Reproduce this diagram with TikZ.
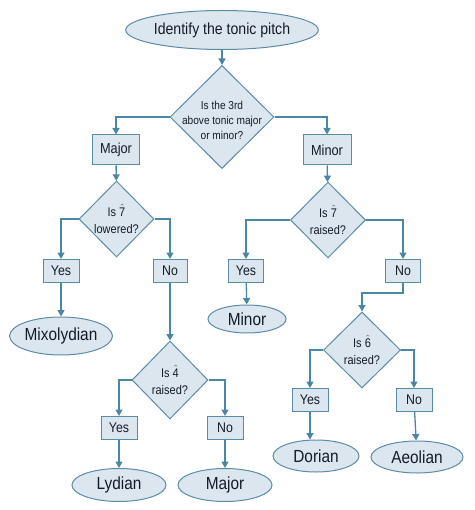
\documentclass[tikz,border=0pt]{standalone}
\usepackage{fontspec}
\setmainfont[FakeStretch=0.88]{Liberation Sans}
\usepackage{tikz}
\usetikzlibrary{shapes.geometric,arrows.meta}
\definecolor{boxfill}{HTML}{DCE6EE}
\definecolor{boxline}{HTML}{5B8CA6}
\definecolor{arrowline}{HTML}{4A87A6}
\definecolor{ink}{HTML}{161A28}
\tikzset{
  base/.style={draw=boxline,fill=boxfill,line width=1pt,text=ink,inner sep=0pt},
  mode/.style={base,ellipse,font=\fontsize{17.5}{20}\selectfont},
  question/.style={base,diamond,inner sep=0pt},
  qtext/.style={text=ink,align=center,font=\fontsize{12.5}{16}\selectfont},
  answer/.style={base,rectangle,minimum width=36pt,minimum height=23pt,font=\fontsize{14}{16}\selectfont},
  flow/.style={draw=arrowline,line width=1.3pt,-{Triangle[width=7pt,length=6.5pt]}}
}
\begin{document}
\begin{tikzpicture}[x=1pt,y=-1pt]
\useasboundingbox (0,0) rectangle (474,510);
% start
\node[mode,minimum width=179pt,minimum height=39pt,font=\fontsize{16}{18}\selectfont] (start) at (222,30) {Identify the tonic pitch};
\node[question,minimum width=104pt,minimum height=103pt] (third) at (222,117) {};
\node[qtext,font=\fontsize{11.5}{15}\selectfont] (thirdtext) at (222,120) {Is the 3rd\\above tonic major\\or minor?};
\node[answer,minimum width=47pt,minimum height=30pt,font=\fontsize{14.5}{16}\selectfont] (major) at (116,150) {Major};
\node[answer,minimum width=48pt,minimum height=30pt,font=\fontsize{14.5}{16}\selectfont] (minor) at (327,150) {Minor};
% major side
\node[question,minimum width=75pt,minimum height=76pt] (lowered) at (116.5,219) {};
\node[qtext] (loweredtext) at (116.5,219) {Is \ensuremath{\hat{\mbox{7}}}\\[1pt]lowered?};
\node[answer] (yesA) at (61,271) {Yes};
\node[answer,minimum width=34pt] (noA) at (170,271) {No};
\node[mode,minimum width=102pt,minimum height=38pt] (mixo) at (61,336) {Mixolydian};
\node[question,minimum width=76pt,minimum height=78pt] (fourth) at (170,380) {};
\node[qtext] (fourthtext) at (170,380) {Is \ensuremath{\hat{\mbox{4}}}\\[1pt]raised?};
\node[answer] (yesC) at (119,428) {Yes};
\node[answer] (noC) at (225,428) {No};
\node[mode,minimum width=94pt,minimum height=33pt] (lydian) at (119,485) {Lydian};
\node[mode,minimum width=94pt,minimum height=33pt] (ionian) at (225,485) {Major};
% minor side
\node[question,minimum width=75pt,minimum height=76pt] (raised) at (328,220) {};
\node[qtext] (raisedtext) at (328,220) {Is \ensuremath{\hat{\mbox{7}}}\\[1pt]raised?};
\node[answer,minimum width=35pt] (yesB) at (246,271) {Yes};
\node[answer,minimum width=35pt] (noB) at (403,271) {No};
\node[mode,minimum width=78pt,minimum height=28pt] (minorend) at (247,319) {Minor};
\node[question,minimum width=77pt,minimum height=76pt] (sixth) at (362,350) {};
\node[qtext] (sixthtext) at (362,350) {Is \ensuremath{\hat{\mbox{6}}}\\[1pt]raised?};
\node[answer] (yesD) at (310,400) {Yes};
\node[answer] (noD) at (414,400) {No};
\node[mode,minimum width=86pt,minimum height=32pt] (dorian) at (316,456) {Dorian};
\node[mode,minimum width=92pt,minimum height=32pt] (aeolian) at (417,457) {Aeolian};
% connectors
\draw[flow] (start) -- (third);
\draw[flow] (third.west) -| (major.north);
\draw[flow] (third.east) -| (minor.north);
\draw[flow] (major) -- (lowered);
\draw[flow] (minor) -- (raised);
\draw[flow] (lowered.west) -| (yesA.north);
\draw[flow] (lowered.east) -| (noA.north);
\draw[flow] (yesA) -- (mixo);
\draw[flow] (noA) -- (fourth);
\draw[flow] (fourth.west) -| (yesC.north);
\draw[flow] (fourth.east) -| (noC.north);
\draw[flow] (yesC) -- (lydian);
\draw[flow] (noC) -- (ionian);
\draw[flow] (raised.west) -| (yesB.north);
\draw[flow] (raised.east) -| (noB.north);
\draw[flow] (yesB) -- (minorend);
\draw[flow] (noB.south) -- ++(0,10) -| (sixth.north);
\draw[flow] (sixth.west) -| (yesD.north);
\draw[flow] (sixth.east) -| (noD.north);
\draw[flow] (yesD.south) -- (yesD.south |- dorian.north);
\draw[flow] (noD) -- (aeolian);
\end{tikzpicture}
\end{document}
